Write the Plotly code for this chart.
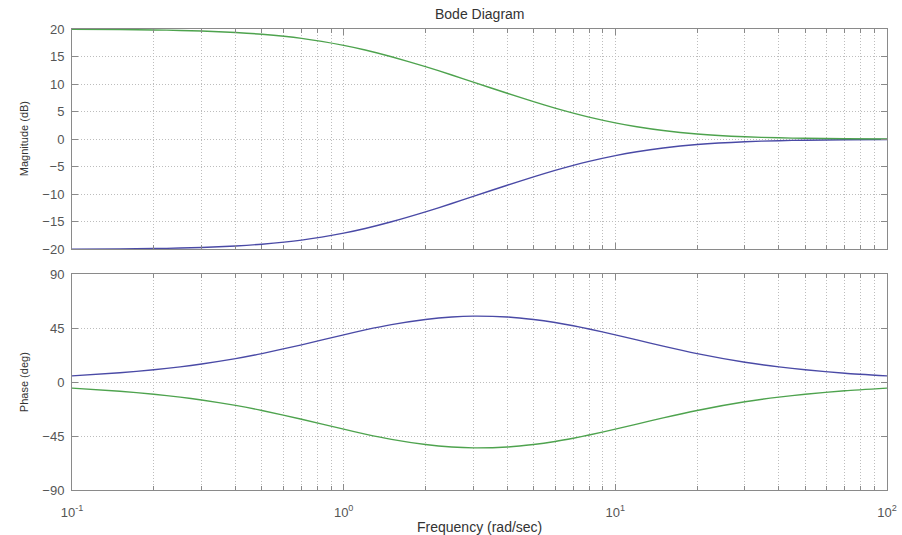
import plotly.graph_objects as go
from plotly.subplots import make_subplots

# Frequency samples (rad/sec)
freq = [0.1, 0.15, 0.2, 0.25, 0.3, 0.4, 0.5, 0.7, 1.0, 1.2, 1.5, 2.0, 2.5, 3.0,
        4.0, 5.0, 6.0, 7.0, 8.0, 10.0, 12.0, 15.0, 20.0, 30.0, 40.0, 50.0, 70.0, 100.0]

# Lead network response
lead_mag = [-19.96, -19.90, -19.83, -19.74, -19.63, -19.36, -19.04, -18.29, -17.03,
            -16.19, -14.97, -13.18, -11.66, -10.37, -8.34, -6.82, -5.65, -4.74,
            -4.02, -2.97, -2.26, -1.58, -0.96, -0.45, -0.26, -0.17, -0.09, -0.04]
lead_phase = [5.1, 7.7, 10.2, 12.6, 15.0, 19.5, 23.7, 31.0, 39.3, 43.4, 47.8, 52.1,
              54.2, 54.9, 54.2, 52.1, 49.6, 46.9, 44.2, 39.3, 35.1, 29.9, 23.7, 16.5,
              12.6, 10.2, 7.3, 5.1]

# Lag network response
lag_mag = [19.96, 19.90, 19.83, 19.74, 19.63, 19.36, 19.04, 18.29, 17.03,
           16.19, 14.97, 13.18, 11.66, 10.37, 8.34, 6.82, 5.65, 4.74,
           4.02, 2.97, 2.26, 1.58, 0.96, 0.45, 0.26, 0.17, 0.09, 0.04]
lag_phase = [-5.1, -7.7, -10.2, -12.6, -15.0, -19.5, -23.7, -31.0, -39.3, -43.4, -47.8,
             -52.1, -54.2, -54.9, -54.2, -52.1, -49.6, -46.9, -44.2, -39.3, -35.1,
             -29.9, -23.7, -16.5, -12.6, -10.2, -7.3, -5.1]

mag_ticks = [-20, -15, -10, -5, 0, 5, 10, 15, 20]
phase_ticks = [-90, -45, 0, 45, 90]
decade_vals = [0.1, 1, 10, 100]
decade_text = ["10<sup>-1</sup>", "10<sup>0</sup>", "10<sup>1</sup>", "10<sup>2</sup>"]

BLUE = "#4a4aa6"
GREEN = "#4ea34e"
FRAME = "#8a8a8a"
GRID = "#bdbdbd"
TXT = "#555555"
LABEL = "#333333"
FONT = "Liberation Sans, Arial, sans-serif"
DOTS = "1px,2px"

fig = make_subplots(rows=2, cols=1, shared_xaxes=False, vertical_spacing=0.0)

line_kw = dict(width=1.4, shape="spline", smoothing=0.6)
fig.add_trace(go.Scatter(x=freq, y=lead_mag, mode="lines", line=dict(color=BLUE, **line_kw),
                         showlegend=False), row=1, col=1)
fig.add_trace(go.Scatter(x=freq, y=lag_mag, mode="lines", line=dict(color=GREEN, **line_kw),
                         showlegend=False), row=1, col=1)
fig.add_trace(go.Scatter(x=freq, y=lead_phase, mode="lines", line=dict(color=BLUE, **line_kw),
                         showlegend=False), row=2, col=1)
fig.add_trace(go.Scatter(x=freq, y=lag_phase, mode="lines", line=dict(color=GREEN, **line_kw),
                         showlegend=False), row=2, col=1)

xaxis_common = dict(
    type="log", range=[-1, 2], tickvals=decade_vals, automargin=False,
    showline=True, linecolor=FRAME, linewidth=1, mirror="allticks",
    ticks="inside", ticklen=6, tickcolor=FRAME,
    showgrid=True, gridcolor=GRID, griddash=DOTS, gridwidth=1,
    minor=dict(dtick="D1", ticks="inside", ticklen=4, tickcolor=FRAME,
               showgrid=True, gridcolor=GRID, griddash=DOTS, gridwidth=1),
    zeroline=False, tickfont=dict(family=FONT, size=13, color=TXT),
)
yaxis_common = dict(
    showline=True, linecolor=FRAME, linewidth=1, mirror="allticks", automargin=False,
    ticks="inside", ticklen=6, tickcolor=FRAME,
    showgrid=True, gridcolor=GRID, griddash=DOTS, gridwidth=1,
    zeroline=False, tickfont=dict(family=FONT, size=13, color=TXT),
    ticklabelstandoff=4,
)

fig.update_layout(
    xaxis=dict(xaxis_common, domain=[0, 1], showticklabels=False, anchor="y"),
    xaxis2=dict(xaxis_common, domain=[0, 1], ticktext=decade_text, anchor="y2",
                ticklabelstandoff=10),
    yaxis=dict(yaxis_common, domain=[0.5217, 1.0], range=[-20, 20], tickvals=mag_ticks),
    yaxis2=dict(yaxis_common, domain=[0.0, 0.4685], range=[-90, 90], tickvals=phase_ticks),
    width=902, height=535,
    margin=dict(l=72, r=15, t=29, b=45),
    paper_bgcolor="white", plot_bgcolor="white",
    font=dict(family=FONT, size=12, color=TXT),
)

fig.add_annotation(text="Bode Diagram", xref="paper", yref="paper", x=0.5, y=1.0,
                   xanchor="center", yanchor="middle", yshift=15, showarrow=False,
                   font=dict(family=FONT, size=14, color=LABEL))
fig.add_annotation(text="Magnitude (dB)", xref="paper", yref="paper", x=0, xshift=-48,
                   xanchor="center", yanchor="middle",
                   y=0.761, textangle=-90, showarrow=False,
                   font=dict(family=FONT, size=11, color=LABEL))
fig.add_annotation(text="Phase (deg)", xref="paper", yref="paper", x=0, xshift=-48,
                   xanchor="center", yanchor="middle",
                   y=0.234, textangle=-90, showarrow=False,
                   font=dict(family=FONT, size=11, color=LABEL))
fig.add_annotation(text="Frequency (rad/sec)", xref="paper", yref="paper", x=0.5, y=0,
                   xanchor="center", yanchor="middle", yshift=-37, showarrow=False,
                   font=dict(family=FONT, size=14, color=LABEL))

fig.write_html("out.html")
